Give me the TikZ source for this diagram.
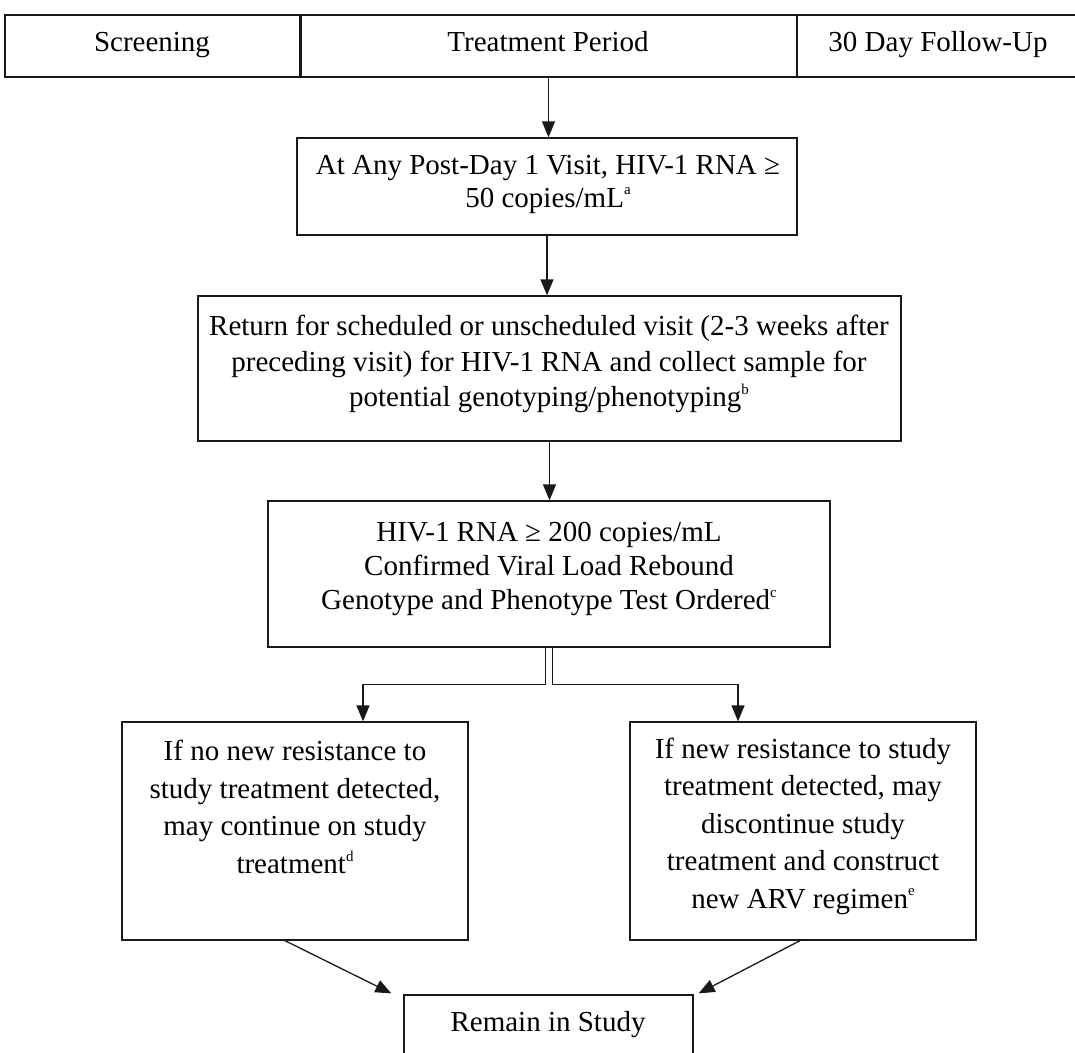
\documentclass[tikz,border=0pt]{standalone}
\usepackage{fontspec}
\setmainfont{Liberation Serif}
\usetikzlibrary{arrows.meta,fit}
\newcommand{\fnm}[1]{\raisebox{0.42em}{\fontsize{15}{15}\selectfont #1}}
\begin{document}
\begin{tikzpicture}[x=1pt,y=-1pt,
  box/.style={draw=black!90, line width=1.3pt, inner sep=0pt},
  txt/.style={align=center, inner sep=0pt, font=\fontsize{29}{#1}\selectfont},
  txt/.default=35,
  arr/.style={draw=black!90, line width=1.3pt, -{Triangle[length=16pt,width=13pt]}},
  ln/.style={draw=black!90, line width=1.3pt}]
\useasboundingbox (0,0) rectangle (1075,1052);
\clip (0,0) rectangle (1075,1052);
\fill[white] (0,0) rectangle (1075,1052);
% top band
\node[box, fit={(5,15) (300,77)}] (scr) {};
\node[box, fit={(300,15) (797,77)}] (trt) {};
\node[box, fit={(797,15) (1090,77)}] (fu) {};
\draw[line width=2.2pt, black!90] (scr.north east) -- (scr.south east);
\node[txt, anchor=base] (scrt) at (152,51) {Screening};
\node[txt, anchor=base] (trtt) at (548,51) {Treatment Period};
\node[txt, anchor=base] (fut) at (938,51) {30 Day Follow-Up};
% boxes
\node[box, fit={(297,138) (797,235)}] (b1) {};
\node[txt=33] (b1t) at (548,184) {At Any Post-Day 1 Visit, HIV-1 RNA ≥\\ 50 copies/mL\fnm{a}};
\node[box, fit={(198,296) (901,441)}] (b2) {};
\node[txt=35.5] (b2t) at (549,364) {Return for scheduled or unscheduled visit (2-3 weeks after\\ preceding visit) for HIV-1 RNA and collect sample for\\ potential genotyping/phenotyping\fnm{b}};
\node[box, fit={(268,501) (830,647)}] (b3) {};
\node[txt=34] (b3t) at (549,569) {HIV-1 RNA ≥ 200 copies/mL\\ Confirmed Viral Load Rebound\\ Genotype and Phenotype Test Ordered\fnm{c}};
\node[box, fit={(122,722) (468,940)}] (L) {};
\node[txt=37.7] (Lt) at (295,807) {If no new resistance to\\ study treatment detected,\\ may continue on study\\ treatment\fnm{d}};
\node[box, fit={(630,722) (976,940)}] (R) {};
\node[txt=37.5] (Rt) at (803,826) {If new resistance to study\\ treatment detected, may\\ discontinue study\\ treatment and construct\\ new ARV regimen\fnm{e}};
\node[box, fit={(404,995) (693,1100)}] (rem) {};
\node[txt, anchor=base] (remt) at (548,1031) {Remain in Study};
% connectors
\draw[arr] (trt.south) -- (trt.south |- b1.north);
\draw[arr] (b1.south) -- (b1.south |- b2.north);
\draw[arr] (b2.south) -- (b2.south |- b3.north);
\draw[arr] ([xshift=-3.5pt]b3.south) -- ++(0,37) -| ([xshift=68pt]L.north);
\draw[arr] ([xshift=3.5pt]b3.south) -- ++(0,37) -| ([xshift=-65pt]R.north);
\draw[arr] ([xshift=-10pt]L.south) -- ([xshift=-12pt,yshift=1pt]rem.north west);
\draw[arr] ([xshift=-3pt]R.south) -- ([xshift=5pt,yshift=1pt]rem.north east);
\end{tikzpicture}
\end{document}
